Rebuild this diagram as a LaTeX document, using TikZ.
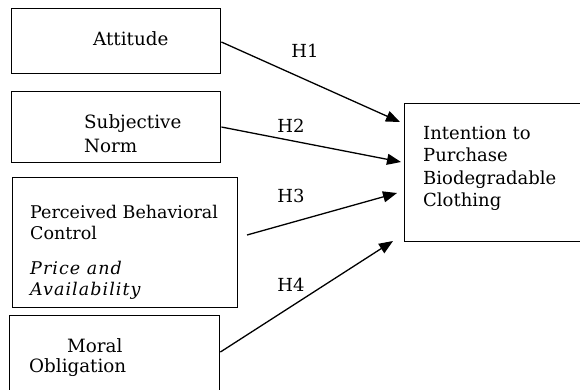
\documentclass[tikz,border=0pt]{standalone}
\usepackage{fontspec}
\setmainfont{DejaVu Serif}
\usetikzlibrary{arrows.meta}
\begin{document}
\begin{tikzpicture}[x=1pt,y=-1pt,
  box/.style={draw, line width=1.4pt, anchor=north west, inner sep=0pt},
  txt/.style={font=\fontsize{18.3}{22}\selectfont, anchor=west, inner sep=0pt, align=left},
  hyp/.style={font=\fontsize{18}{20}\selectfont, inner sep=0pt},
  link/.style={line width=1.3pt, -{Triangle[length=14pt,width=11pt]}}]
\clip (0,0) rectangle (580,389);
\fill[white] (0,0) rectangle (580,389);
% boxes
\node[box, minimum width=209pt, minimum height=65pt] (att) at (11,8) {};
\node[box, minimum width=209pt, minimum height=71pt] (sn) at (11,91) {};
\node[box, minimum width=225pt, minimum height=130pt] (pbc) at (12,177) {};
\node[box, minimum width=210pt, minimum height=110pt] (mo) at (9,315) {};
\node[box, minimum width=200pt, minimum height=138pt] (int) at (404,103) {};
% texts
\node[txt] (tatt) at (93,39) {Attitude};
\node[txt, font=\fontsize{18.3}{24}\selectfont] (tsn) at (84,134) {Subjective\\Norm};
\node[txt, font=\fontsize{17.5}{21}\selectfont] (tpbc1) at (30,222) {Perceived Behavioral\\Control};
\node[txt, font=\itshape\fontsize{17.5}{21}\selectfont\addfontfeatures{LetterSpace=6}] (tpbc2) at (30,280) {Price and\\Availability};
\node[txt] (tmo1) at (67,346) {Moral};
\node[txt] (tmo2) at (29,368) {Obligation};
\node[txt, font=\fontsize{18}{22.3}\selectfont] (tint) at (423,168.5) {Intention to\\Purchase\\Biodegradable\\Clothing};
% connector ends
\coordinate (s1) at (att.east |- 0,42);
\coordinate (s2) at (sn.east |- 0,127);
\coordinate (s3) at (247,235);
\coordinate (s4) at (mo.east |- 0,352);
\coordinate (e1) at (400,122);
\coordinate (e2) at (401,162);
\coordinate (e3) at (397,193);
\coordinate (e4) at (393,241);
\draw[link] (s1) -- (e1);
\draw[link] (s2) -- (e2);
\draw[link] (s3) -- (e3);
\draw[link] (s4) -- (e4);
% labels
\node[hyp] (h1) at (305,51) {H1};
\node[hyp] (h2) at (291,126) {H2};
\node[hyp] (h3) at (291,196) {H3};
\node[hyp] (h4) at (291,285) {H4};
\end{tikzpicture}
\end{document}
